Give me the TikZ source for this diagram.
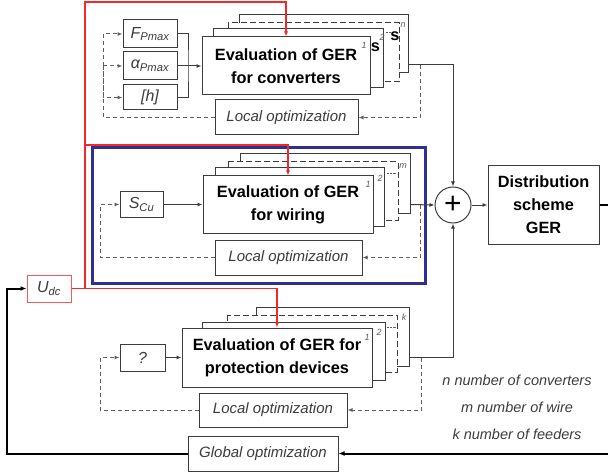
\documentclass[tikz,border=0pt]{standalone}
\usepackage{fontspec}
\setmainfont{Liberation Sans}
\usetikzlibrary{arrows.meta,calc}
\definecolor{boxgray}{RGB}{60,60,60}
\definecolor{fbgray}{RGB}{95,95,95}
\definecolor{udcred}{RGB}{240,90,90}
\definecolor{linered}{RGB}{245,40,40}
\definecolor{navyblue}{RGB}{46,49,146}
\tikzset{
	blk/.style={draw=boxgray, line width=1pt, fill=white, inner sep=0pt, align=center},
	evalbox/.style={blk, font=\fontsize{16.3}{23}\selectfont\bfseries},
	backbox/.style={draw=boxgray, line width=1pt, fill=white},
	locbox/.style={blk, font=\fontsize{15}{17}\selectfont\itshape, text=boxgray},
	inbox/.style={blk, font=\fontsize{16}{18}\selectfont\itshape, text=boxgray},
	conn/.style={draw=boxgray, line width=1pt},
	arr/.style={conn, -{Latex[length=5pt,width=4pt]}},
	fb/.style={draw=fbgray, line width=1pt, dash pattern=on 4pt off 3pt},
	fbarr/.style={fb, -{Latex[length=5pt,width=4pt]}},
	redarr/.style={draw=linered, line width=1.1pt, -{Latex[length=5pt,width=4pt]}},
	globarr/.style={draw=black, line width=2pt, -{Latex[length=6pt,width=5pt]}},
	idx/.style={font=\fontsize{9}{9}\selectfont\itshape, text=fbgray, inner sep=0pt},
	frag/.style={font=\fontsize{16.3}{16}\selectfont\bfseries, inner sep=0pt},
	legend/.style={font=\fontsize{14.5}{16}\selectfont\itshape, text=boxgray},
}

\begin{document}
\begin{tikzpicture}[x=1pt,y=-1pt]
		%%%%% START %%%%%
		\useasboundingbox (0,0) rectangle (608,476);
		
		% converters stack
		\draw[backbox] (239,15) rectangle (408,73);
		\draw[backbox, dash pattern=on 6pt off 3pt] (228,23) rectangle (399,82);
		\node[frag] (fragc3) at (395,36) {s};
		\draw[fbgray, densely dotted] (386,32) -- (391,32);
		\draw[backbox] (213,29) rectangle (383,88);
		\node[frag] (fragc2) at (375.5,47) {s};
		\node[evalbox, minimum width=168pt, minimum height=58pt] (evconv) at (286,66) {Evaluation of GER\\for converters};
		\node[idx] (ic1) at (364,45) {1};
		\node[idx] (ic2) at (382,37) {2};
		\node[idx] (icn) at (403,25) {n};
		
		\node[inbox, minimum width=54pt, minimum height=28pt] (fpmax) at (150,34) {F\textsubscript{Pmax}};
		\node[inbox, minimum width=54pt, minimum height=28pt] (apmax) at (150,66) {α\textsubscript{Pmax}};
		\node[inbox, minimum width=54pt, minimum height=25pt] (hbox) at (150,97.5) {[h]};
		\node[locbox, minimum width=143pt, minimum height=35pt] (loc1) at (286.5,117.5) {Local optimization};
		
		\draw[conn] (fpmax.east) -| (188,66) |- (hbox.east);
		\draw[arr] (apmax.east) -- (evconv.west);
		\coordinate (convout) at (408,65);
		\draw[fbarr] (420,65) |- (loc1.east);
		\draw[fb] (loc1.west) -| (103,66);
		\draw[fbarr] (103,66) |- (fpmax.west);
		\draw[fbarr] (103,66) -- (apmax.west);
		\draw[fbarr] (103,66) |- (hbox.west);
		
		% wiring stack
		\draw[navyblue, line width=3pt] (92,148) rectangle (425,283);
		\draw[backbox] (240,154) rectangle (410,213);
		\draw[backbox, dash pattern=on 6pt off 3pt] (228,162) rectangle (398,220);
		\draw[fbgray, densely dotted] (387,173) -- (396,173);
		\draw[backbox] (215,168) rectangle (384,226);
		\node[evalbox, minimum width=170pt, minimum height=57pt] (evwir) at (288,204.5) {Evaluation of GER\\for wiring};
		\node[idx] (iw1) at (368,184) {1};
		\node[idx] (iw2) at (380,178) {2};
		\node[idx] (iwm) at (403,166) {m};
		
		\node[inbox, minimum width=43pt, minimum height=26pt] (scu) at (141.5,204.5) {S\textsubscript{Cu}};
		\node[locbox, minimum width=147pt, minimum height=35pt] (loc2) at (288.5,257.5) {Local optimization};
		\draw[arr] (scu.east) -- (evwir.west);
		\coordinate (wirout) at (410,204.5);
		\draw[fbarr] (420,204.5) |- (loc2.east);
		\draw[fbarr] (loc2.west) -| (100,204.5) -- (scu.west);
		
		% protection stack
		\draw[backbox] (256,307) rectangle (409,366);
		\draw[backbox, dash pattern=on 6pt off 3pt] (227,315) rectangle (397,372);
		\draw[fbgray, densely dotted] (387,327) -- (396,327);
		\draw[backbox] (202,322) rectangle (385,380);
		\node[evalbox, minimum width=190pt, minimum height=59pt] (evprot) at (277,357.5) {Evaluation of GER for\\protection devices};
		\node[idx] (ip1) at (367,337) {1};
		\node[idx] (ip2) at (379,332) {2};
		\node[idx] (ipk) at (404,317) {k};
		
		\node[inbox, minimum width=45pt, minimum height=27pt] (qbox) at (142.5,357.5) {?};
		\node[locbox, minimum width=148pt, minimum height=34pt] (loc3) at (273,410) {Local optimization};
		\draw[arr] (qbox.east) -- (evprot.west);
		\coordinate (protout) at (409,357.5);
		\draw[fbarr] (421,357.5) |- (loc3.east);
		\draw[fbarr] (loc3.west) -| (100,357.5) -- (qbox.west);
		
		% sum and distribution
		\node[draw=boxgray, line width=1pt, circle, minimum size=36pt, inner sep=0pt, font=\fontsize{30}{30}\selectfont] (plus) at (453,205) {+};
		\node[evalbox, minimum width=111pt, minimum height=78pt] (dist) at (543.5,205) {Distribution\\scheme\\GER};
		\draw[arr] (convout) -| (plus.north);
		\draw[arr] (wirout) -- (plus.west);
		\draw[arr] (protout) -| (plus.south);
		\draw[arr] (plus.east) -- (dist.west);
		\coordinate (distend) at (608,205);
		\draw[black, line width=1.5pt] (dist.east) -- (distend);
		
		% red voltage lines
		\node[blk, draw=udcred, font=\fontsize{16}{18}\selectfont\itshape, text=boxgray, minimum width=44pt, minimum height=27pt] (udc) at (49,288.5) {U\textsubscript{dc}};
		\draw[redarr] (udc.east) -| (85,2) -| (evconv.north);
		\draw[redarr] (85,145) -| (evwir.north);
		\draw[redarr] (udc.east) -| (evprot.north);
		
		% global loop
		\node[locbox, minimum width=150pt, minimum height=35pt] (glob) at (263,453.5) {Global optimization};
		\coordinate (globend) at (608,453.5);
		\draw[globarr] (globend) -- (glob.east);
		\draw[globarr] (glob.west) -| (7,288.5) -- (udc.west);
		
		% legend
		\node[legend] (legn) at (517,380) {n number of converters};
		\node[legend] (legm) at (517,407) {m number of wire};
		\node[legend] (legk) at (517,434) {k number of feeders};
		
		%%%%% END %%%%%
\end{tikzpicture}
\end{document}
